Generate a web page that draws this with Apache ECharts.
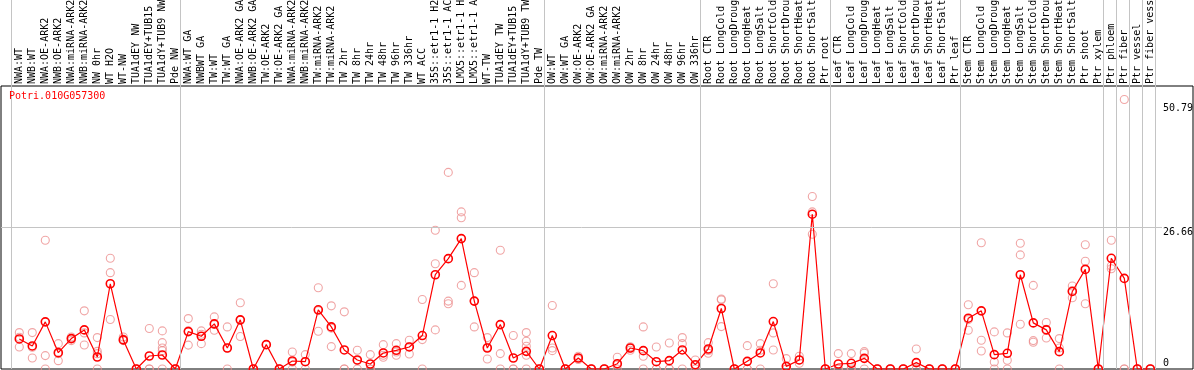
<!DOCTYPE html>
<html><head><meta charset="utf-8">
<script src="https://cdn.jsdelivr.net/npm/echarts@6/dist/echarts.min.js"></script>
<style>html,body{margin:0;padding:0;background:#fff}#c{width:1194px;height:370px}</style>
</head><body><div id="c"></div>
<script>
const geneName = 'Potri.010G057300';

const categories = [
  'NWA:WT','NWB:WT','NWA:OE-ARK2','NWB:OE-ARK2','NWA:miRNA-ARK2','NWB:miRNA-ARK2','NW 0hr','WT H2O','WT-NW',
  'TUA1dEY NW','TUA1dEY+TUB15 NW','TUA1dY+TUB9 NW','Pde NW',
  'NWA:WT GA','NWBWT GA','TW:WT','TW:WT GA','NWA:OE-ARK2 GA','NWB:OE-ARK2 GA','TW:OE-ARK2','TW:OE-ARK2 GA',
  'NWA:miRNA-ARK2','NWB:miRNA-ARK2','TW:miRNA-ARK2','TW:miRNA-ARK2',
  'TW 2hr','TW 8hr','TW 24hr','TW 48hr','TW 96hr','TW 336hr','WT ACC',
  '35S::etr1-1 H2O','35S::etr1-1 ACC','LMX5::etr1-1 H2O','LMX5::etr1-1 ACC','WT-TW',
  'TUA1dEY TW','TUA1dEY+TUB15 TW','TUA1dY+TUB9 TW','Pde TW',
  'OW:WT','OW:WT GA','OW:OE-ARK2','OW:OE-ARK2 GA','OW:miRNA-ARK2','OW:miRNA-ARK2',
  'OW 2hr','OW 8hr','OW 24hr','OW 48hr','OW 96hr','OW 336hr',
  'Root CTR','Root LongCold','Root LongDrought','Root LongHeat','Root LongSalt',
  'Root ShortCold','Root ShortDrought','Root ShortHeat','Root ShortSalt','Ptr root',
  'Leaf CTR','Leaf LongCold','Leaf LongDrought','Leaf LongHeat','Leaf LongSalt',
  'Leaf ShortCold','Leaf ShortDrought','Leaf ShortHeat','Leaf ShortSalt','Ptr leaf',
  'Stem CTR','Stem LongCold','Stem LongDrought','Stem LongHeat','Stem LongSalt',
  'Stem ShortCold','Stem ShortDrought','Stem ShortHeat','Stem ShortSalt','Ptr shoot',
  'Ptr xylem','Ptr phloem','Ptr fiber','Ptr vessel','Ptr fiber vessel'
];

const means = [
  5.66, 4.34, 8.88, 3.08, 5.73, 7.37, 2.26, 16.06, 5.48, 0, 2.45, 2.64, 0,
  7.05, 6.17, 8.5, 3.96, 9.26, 0, 4.59, 0, 1.51, 1.38, 11.15, 7.93,
  3.59, 1.7, 0.94, 3.02, 3.52, 4.15, 6.3, 17.76, 20.79, 24.57, 12.79, 3.96,
  8.37, 2.07, 3.33, 0,
  6.3, 0, 2.07, 0, 0, 1.0, 3.96, 3.46, 1.38, 1.57, 3.59, 0.81,
  3.77, 11.4, 0, 1.44, 3.02, 8.94, 0.5, 1.7, 29.17, 0,
  0.94, 1.07, 2.01, 0, 0, 0, 1.2, 0, 0, 0,
  9.57, 10.96, 2.7, 2.96, 17.76, 8.69, 7.37, 3.27, 14.61, 18.77,
  0, 20.86, 17.07, 0, 0
];

const replicates = [
  [6.86,5.97,4.15],[6.86,4.09,2.07],[24.25,2.52,0],[4.78,2.9,1.57],[6.04,5.73,5.35],[10.96,6.8,4.53],
  [5.92,3.33,2.89,0],[20.86,18.15,9.32],[6.04,5.66,5.35],[0,0,0],[7.62,0,0],[7.18,4.97,3.96,3.46,0],[0,0,0],
  [9.5,7.2,4.5],[7.18,6.55,4.78],[9.82,8.4,7.31],[7.93,3.95,0],[12.47,9.2,6.11],[0,0,0],[4.59],[0,0,0],
  [3.21,1.3,0],[2.71,1.4,0],[15.3,11.0,7.12],[11.9,7.7,4.22],
  [10.77,0,0],[3.52,1.58,0],[2.71,0,0],[4.59,2.58,2.2],[4.78,3.2,2.58],[5.41,4.2,2.83],[13.1,5.54,0],
  [26.14,19.84,7.37],[37.04,12.79,12.28],[29.6,28.5,15.75],[18.15,12.79,7.93],[5.92,4.1,1.89],
  [22.37,2.9,0],[6.3,0,0],[6.86,5.22,4.28,2.58,0],[0,0,0],
  [11.96,3.96,3.46],[0,0,0],[2.39,2.07,1.8],[0,0,0],[0,0,0],[2.2,0.8,0],
  [4.2,3.9,3.52],[7.93,2.39,0],[4.15,0,0],[4.91,0,0],[5.92,4.78,0],[1.7,0.7,0],
  [4.97,3.5,2.96],[13.03,13.2,7.99],[0,0,0],[4.4,0,0],[4.78,3.52,0],
  [16.06,6.8,3.59],[1.95,0,0],[2.39,1.7,1.07],[32.5,29.6,25.4],[0,0,0],
  [2.9,0,0],[2.9,0.3,0],[3.27,2.96,0],[0,0,0],[0,0,0],
  [0,0,0],[3.77,0,0],[0,0,0],[0,0,0],[0,0,0],
  [12.1,9.3,7.31],[23.8,5.41,3.4],[6.99,1.32,0],[6.8,1.64,0],[23.7,21.5,8.44],
  [15.75,5.35,5.03],[8.75,7.5,5.85],[5.73,3.96,0],[15.63,14.78,13.42],[23.4,20.29,12.28],
  [0,0,0],[24.25,19.4,18.9],[50.79,0,0],[0,0,0],[0,0,0]
];

const groupBreaks = [0, 13, 41, 53, 63, 73, 84, 85, 86, 87, 88];
const yTickLabels = [0, 26.66, 50.79];
const yMax = 53.32;
const gridLineValue = 26.66;

// layout
const W = 1194;
const plotLeft = 1, plotRight = 1, plotTop = 86, plotBottom = 1;
const colW = 13, firstX = 19.3;
const plotW = W - plotLeft - plotRight;
const xMin = 1 - (firstX - plotLeft) / colW;
const xMax = xMin + plotW / colW;
const sepShift = 1 - 8 / colW;
const gridLineEnd = 1 + (1162 - firstX) / colW;

const mono = 'DejaVu Sans Mono';
const sepColor = '#c4c4c4';

const repData = [];
replicates.forEach((arr, i) => arr.forEach(v => repData.push([i + 1, v])));
const meanData = means.map((v, i) => [i + 1, v]);
const sepLines = groupBreaks.map(b => ({ xAxis: b + sepShift }));

const chart = echarts.init(document.getElementById('c'), null, { renderer: 'canvas' });

const markBase = {
  silent: true, symbol: 'none', animation: false,
  label: { show: false },
  emphasis: { disabled: true },
  lineStyle: { color: sepColor, width: 1, type: 'solid' }
};

const labelFont = { fontFamily: mono, fontSize: 10, color: '#000' };

chart.setOption({
  backgroundColor: '#fff',
  animation: false,
  title: {
    text: geneName, left: 9, top: 91, padding: 0,
    textStyle: { color: '#ff0000', fontFamily: mono, fontSize: 10, fontWeight: 'normal' }
  },
  grid: [
    { left: plotLeft, right: plotRight, top: plotTop, bottom: plotBottom, show: true,
      outerBoundsMode: 'none', containLabel: false,
      borderColor: '#000', borderWidth: 1, backgroundColor: 'transparent' },
    { left: plotLeft, right: plotRight, top: 0, height: plotTop,
      outerBoundsMode: 'none', containLabel: false }
  ],
  xAxis: [
    { gridIndex: 0, type: 'value', min: xMin, max: xMax, position: 'top',
      axisLine: { show: false }, axisTick: { show: false }, splitLine: { show: false },
      axisLabel: Object.assign({
        customValues: categories.map((c, i) => i + 1),
        formatter: v => categories[Math.round(v) - 1] || '',
        rotate: 90, margin: 2, hideOverlap: false
      }, labelFont) },
    { gridIndex: 1, type: 'value', min: xMin, max: xMax, show: false }
  ],
  yAxis: [
    { gridIndex: 0, type: 'value', min: 0, max: yMax, position: 'right',
      axisLine: { show: false }, axisTick: { show: false }, splitLine: { show: false },
      axisLabel: {
        customValues: yTickLabels, inside: true, align: 'left', margin: 30,
        formatter: v => v === 0 ? '{z|0}' : (v > 40 ? '{a|' + v + '}' : '{b|' + v + '}'),
        rich: {
          z: Object.assign({ padding: [0, 0, 12, 0] }, labelFont),
          a: Object.assign({ padding: [18, 0, 0, 0] }, labelFont),
          b: Object.assign({ padding: [10, 0, 0, 0] }, labelFont)
        }
      } },
    { gridIndex: 1, type: 'value', min: 0, max: 1, show: false }
  ],
  series: [
    {
      name: 'replicates', type: 'scatter', xAxisIndex: 0, yAxisIndex: 0,
      data: repData, symbol: 'circle', symbolSize: 8, z: 2,
      itemStyle: { color: 'rgba(0,0,0,0)', borderColor: '#ec8e8e', borderWidth: 1.1 },
      emphasis: { disabled: true },
      markLine: Object.assign({}, markBase, {
        data: sepLines.concat([[{ coord: [xMin, gridLineValue] }, { coord: [gridLineEnd, gridLineValue] }]])
      })
    },
    {
      name: 'mean', type: 'line', xAxisIndex: 0, yAxisIndex: 0,
      data: meanData, symbol: 'circle', symbolSize: 8, showSymbol: true, z: 3,
      lineStyle: { color: '#ff0000', width: 1.2 },
      itemStyle: { color: 'rgba(0,0,0,0)', borderColor: '#ff0000', borderWidth: 1.6 },
      emphasis: { disabled: true }
    },
    {
      name: 'sep-top', type: 'line', xAxisIndex: 1, yAxisIndex: 1, data: [],
      markLine: Object.assign({}, markBase, { data: sepLines })
    }
  ]
});
</script>
</body></html>
